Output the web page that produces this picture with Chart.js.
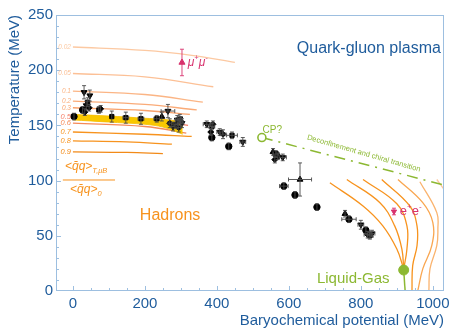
<!DOCTYPE html>
<html>
<head>
<meta charset="utf-8">
<script src="https://cdn.jsdelivr.net/npm/chart.js@4.4.0/dist/chart.umd.min.js"></script>
<style>
html,body{margin:0;padding:0;background:#fff}
</style>
</head>
<body>
<canvas id="c" width="454" height="330"></canvas>
<script>
// axis ranges and ticks
const xMin = -47, xMax = 1031
const yMin = 0, yMax = 250
const xTicks = [0, 200, 400, 600, 800, 1000]
const yTicks = [0, 50, 100, 150, 200, 250]

// chiral condensate contours <qq>_T / <qq>_0 (left side)
const condLevels = ['0.02', '0.05', '0.1', '0.2', '0.3', '0.5', '0.6', '0.7', '0.8', '0.9']
const condMu = [[0, 200, 330, 450], [0, 200, 390], [0, 200, 361], [0, 200, 344], [0, 200, 325],
    [0, 200, 320], [0, 200, 315], [0, 200, 330], [0, 150, 275], [0, 150, 250]]
const condT = [[221, 218, 213.5, 207], [197, 194, 185], [181, 178, 171], [172, 169, 164], [166, 163.5, 160],
    [158, 155, 150], [152, 149, 143], [144, 142, 140], [136, 135, 133], [126, 125.5, 124.5]]

// yellow band
const bandMu = [0, 100, 200, 250, 305]
const bandHi = [160, 158.5, 156.5, 155.5, 153.5]
const bandLo = [155, 153, 151, 148.5, 142]

// liquid-gas contours (right side)
const lgMu = [[714, 806, 861, 900, 919], [761, 853, 894, 914, 919], [806, 900, 928, 928, 919],
    [858, 936, 956, 956, 944, 942], [903, 972, 1000, 997, 972, 958], [964, 1011, 1014, 1011, 992, 989], [1011, 1031]]
const lgT = [[98, 77, 59, 38, 20], [101, 80, 59, 38, 20], [101, 79, 59, 38, 20],
    [101, 77, 59, 41, 23, 0], [101, 80, 62, 41, 20, 0], [99, 71, 56, 41, 20, 0], [101, 92]]

// transition line and critical points
const transMu = [525, 1031]
const transT = [139, 96]
const cpMu = [525], cpT = [139]
const lgCpMu = [919], lgCpT = [19]
const lgStemMu = [919, 923], lgStemT = [19, 0]

// freeze-out points
const circMu = [3, 27, 386, 433, 564, 586, 617, 678, 767, 814]
const circT = [158, 164, 139, 131, 124, 95, 87, 76, 65, 55]
const circEMu = [0, 0, 0, 0, 8, 12, 0, 0, 20, 0]
const circET = [3, 3, 3, 3, 3, 3, 3, 3, 3, 3]

const sqMu = [41, 72, 108, 147, 189, 233, 386, 442, 569, 825]
const sqT = [171, 164, 158, 157, 156, 156, 149, 141, 122, 50]
const sqEMu = [0, 0, 0, 8, 8, 8, 8, 15, 0, 8]
const sqET = [4, 3, 5, 5, 5, 3, 3, 3, 3, 3]

const dnMu = [31, 47, 37, 264, 278, 297, 303, 290, 286, 372, 408, 472, 583, 800, 831]
const dnT = [180, 177, 168, 163, 149, 156, 152, 155, 151, 151, 144, 135, 121, 60, 52]
const dnEMu = [0, 0, 0, 19, 5, 5, 5, 5, 5, 10, 8, 8, 10, 8, 8]
const dnET = [6, 5, 4, 6, 4, 4, 4, 4, 4, 3, 3, 4, 3, 4, 3]

const upMu = [631, 756, 247, 556]
const upT = [101, 70, 158, 126]
const upEMu = [32, 0, 0, 0]
const upET = [15, 3, 4, 3]

const starMu = [33, 45, 77, 269, 294, 299, 383, 389, 417, 561, 819]
const starT = [162, 166, 165, 152, 148, 154, 144, 151, 142, 119, 51]
const starEMu = [0, 0, 0, 5, 5, 5, 0, 0, 8, 0, 10]
const starET = [3, 3, 3, 4, 4, 4, 3, 3, 4, 3, 3]

// dilepton points
const mmMu = [303], mmT = [207], mmET = [12]
const eeMu = [892], eeT = [72], eeET = [3]

const blue = '#1f5c9c'
const orange = '#f7931e'
const green = '#8cb832'
const pink = '#d8336e'
const font = '"Liberation Sans", Arial, sans-serif'
const condColors = ['#fcc9a2', '#fcc096', '#fbb585', '#faab78', '#f9a26c', '#f5806a', '#f58a58', '#f7931e', '#f7931e', '#f28a18']
const lgColors = [orange, orange, orange, orange, '#f9a650', '#fab36e', '#fcc9a0']

function pts(mu, T){
    return mu.map((m, i) => ({x: m, y: T[i]}))
}

function errPts(mu, T, eMu, eT){
    return mu.map((m, i) => ({x: m, y: T[i], ex: eMu ? eMu[i] : 0, ey: eT ? eT[i] : 0}))
}

const datasets = []

condLevels.forEach((lvl, i) => {
    datasets.push({type: 'line', data: pts(condMu[i], condT[i]), borderColor: condColors[i],
        borderWidth: 1.3, pointRadius: 0, tension: 0.4, fill: false, order: 20})
})

datasets.push({type: 'line', data: pts(bandMu, bandHi), borderColor: '#f6bd00', borderWidth: 0.8,
    pointRadius: 0, tension: 0.3, fill: false, order: 15})
datasets.push({type: 'line', data: pts(bandMu, bandLo), borderColor: '#f6bd00', borderWidth: 0.8,
    backgroundColor: '#f9c800', pointRadius: 0, tension: 0.3, fill: '-1', order: 15})

lgMu.forEach((mu, i) => {
    datasets.push({type: 'line', data: pts(mu, lgT[i]), borderColor: lgColors[i],
        borderWidth: 1.3, pointRadius: 0, tension: 0.4, fill: false, order: 20})
})

datasets.push({type: 'line', data: pts(transMu, transT), borderColor: green, borderWidth: 1.5,
    borderDash: [11, 6, 2, 6], pointRadius: 0, fill: false, order: 10})
datasets.push({type: 'line', data: pts(lgStemMu, lgStemT), borderColor: green, borderWidth: 1.5,
    pointRadius: 0, fill: false, order: 10})
datasets.push({type: 'scatter', data: pts(cpMu, cpT), pointStyle: 'circle', pointRadius: 4,
    borderColor: green, borderWidth: 1.6, backgroundColor: '#fff', order: 5})
datasets.push({type: 'scatter', data: pts(lgCpMu, lgCpT), pointStyle: 'circle', pointRadius: 5,
    borderColor: green, backgroundColor: green, order: 5})

const markerSets = [
    [circMu, circT, circEMu, circET, 'circle', 3.2, 0],
    [sqMu, sqT, sqEMu, sqET, 'rect', 3, 0],
    [dnMu, dnT, dnEMu, dnET, 'triangle', 3.4, 180],
    [upMu, upT, upEMu, upET, 'triangle', 3.4, 0],
    [starMu, starT, starEMu, starET, 'rectRot', 3, 0]
]
markerSets.forEach(m => {
    datasets.push({type: 'scatter', data: errPts(m[0], m[1], m[2], m[3]), pointStyle: m[4],
        pointRadius: m[5], rotation: m[6], backgroundColor: '#000', borderColor: '#000',
        borderWidth: 1, errColor: '#4a4a4a', order: 1})
})

datasets.push({type: 'scatter', data: errPts(mmMu, mmT, null, mmET), pointStyle: 'triangle',
    pointRadius: 3.5, backgroundColor: pink, borderColor: pink, errColor: pink, order: 1})
datasets.push({type: 'scatter', data: errPts(eeMu, eeT, null, eeET), pointStyle: 'triangle',
    rotation: 180, pointRadius: 3, backgroundColor: pink, borderColor: pink, errColor: pink, order: 1})

const notes = [
    {text: 'Quark-gluon plasma', mu: 622, T: 220, color: blue, size: 16},
    {text: 'Hadrons', mu: 186, T: 68, color: orange, size: 16},
    {text: 'Liquid-Gas', mu: 678, T: 11, color: green, size: 15},
    {text: 'CP?', mu: 527, T: 146, color: green, size: 10},
    {text: 'Deconfinement and chiral transition', mu: 808, T: 124.5, color: green, size: 7.5, align: 'center', angle: 16}
]

function drawSegments(ctx, x, y, segs, size, color, italic){
    ctx.fillStyle = color
    ctx.textAlign = 'left'
    ctx.textBaseline = 'middle'
    segs.forEach(s => {
        const sz = s[1] ? size * 0.62 : size
        const dy = s[1] === 1 ? -size * 0.35 : (s[1] === -1 ? size * 0.35 : 0)
        ctx.font = (italic ? 'italic ' : '') + sz + 'px ' + font
        ctx.fillText(s[0], x, y + dy)
        x += ctx.measureText(s[0]).width
    })
}

const decor = {
    id: 'decor',
    afterDatasetsDraw(chart){
        const {ctx, chartArea: a, scales: {x, y}} = chart
        ctx.save()
        // error bars
        chart.data.datasets.forEach(ds => {
            if(!ds.errColor) return
            ctx.strokeStyle = ds.errColor
            ctx.lineWidth = 0.9
            ds.data.forEach(p => {
                const px = x.getPixelForValue(p.x), py = y.getPixelForValue(p.y)
                ctx.beginPath()
                if(p.ey){
                    const t = y.getPixelForValue(p.y + p.ey), b = y.getPixelForValue(p.y - p.ey)
                    ctx.moveTo(px, t); ctx.lineTo(px, b)
                    ctx.moveTo(px - 2, t); ctx.lineTo(px + 2, t)
                    ctx.moveTo(px - 2, b); ctx.lineTo(px + 2, b)
                }
                if(p.ex){
                    const l = x.getPixelForValue(p.x - p.ex), r = x.getPixelForValue(p.x + p.ex)
                    ctx.moveTo(l, py); ctx.lineTo(r, py)
                    ctx.moveTo(l, py - 2); ctx.lineTo(l, py + 2)
                    ctx.moveTo(r, py - 2); ctx.lineTo(r, py + 2)
                }
                ctx.stroke()
            })
        })

        // frame and inward ticks
        ctx.strokeStyle = '#9dbfe0'
        ctx.lineWidth = 1
        ctx.strokeRect(a.left + 0.5, a.top + 0.5, a.right - a.left - 1, a.bottom - a.top - 1)
        ctx.beginPath()
        for(let v = 0; v <= 1000; v += 50){
            const px = Math.round(x.getPixelForValue(v)) + 0.5
            const len = v % 200 === 0 ? 5 : 3
            ctx.moveTo(px, a.bottom); ctx.lineTo(px, a.bottom - len)
        }
        for(let v = 10; v < 250; v += 10){
            const py = Math.round(y.getPixelForValue(v)) + 0.5
            const len = v % 50 === 0 ? 5 : 3
            ctx.moveTo(a.left, py); ctx.lineTo(a.left + len, py)
        }
        ctx.stroke()

        // condensate labels
        const x0 = x.getPixelForValue(0) - 2
        condLevels.forEach((lvl, i) => {
            ctx.font = 'italic ' + (i < 5 ? 6.5 : 7.5) + 'px ' + font
            ctx.fillStyle = condColors[i]
            ctx.textAlign = 'right'
            ctx.textBaseline = 'middle'
            ctx.fillText(lvl, x0, y.getPixelForValue(condT[i][0]))
        })

        // ratio label
        drawSegments(ctx, x.getPixelForValue(-22), y.getPixelForValue(113),
            [['<q\u0304q>', 0], ['T,\u03bcB', -1]], 12, orange, true)
        ctx.strokeStyle = orange
        ctx.beginPath()
        ctx.moveTo(x.getPixelForValue(-28), y.getPixelForValue(101) + 0.5)
        ctx.lineTo(x.getPixelForValue(117), y.getPixelForValue(101) + 0.5)
        ctx.stroke()
        drawSegments(ctx, x.getPixelForValue(-8), y.getPixelForValue(92),
            [['<q\u0304q>', 0], ['0', -1]], 12, orange, true)

        // dilepton labels
        drawSegments(ctx, x.getPixelForValue(319), y.getPixelForValue(207),
            [['\u03bc', 0], ['+', 1], ['\u03bc', 0], ['-', 1]], 12, pink, true)
        drawSegments(ctx, x.getPixelForValue(908), y.getPixelForValue(72),
            [['e', 0], ['+', 1], ['e', 0], ['-', 1]], 13, pink, false)

        // region notes
        notes.forEach(n => {
            ctx.save()
            ctx.translate(x.getPixelForValue(n.mu), y.getPixelForValue(n.T))
            if(n.angle) ctx.rotate(n.angle * Math.PI / 180)
            ctx.font = n.size + 'px ' + font
            ctx.fillStyle = n.color
            ctx.textAlign = n.align || 'left'
            ctx.textBaseline = 'middle'
            ctx.fillText(n.text, 0, 0)
            ctx.restore()
        })
        ctx.restore()
    }
}

new Chart(document.getElementById('c'), {
    type: 'scatter',
    data: {datasets},
    options: {
        responsive: false,
        devicePixelRatio: 1,
        animation: false,
        layout: {padding: {top: 15, right: 10, left: 0, bottom: 0}},
        plugins: {legend: {display: false}, tooltip: {enabled: false}},
        scales: {
            x: {
                type: 'linear', min: xMin, max: xMax,
                grid: {display: false, drawTicks: false},
                border: {display: false},
                afterBuildTicks: s => { s.ticks = xTicks.map(v => ({value: v})) },
                afterFit: s => { s.height = 39 },
                ticks: {color: blue, font: {size: 15, family: font}, padding: 4, maxRotation: 0, autoSkip: false,
                    callback: v => String(v)},
                title: {display: true, text: 'Baryochemical potential (MeV)', align: 'end', color: blue,
                    font: {size: 15, family: font}, padding: 0}
            },
            y: {
                type: 'linear', min: yMin, max: yMax,
                grid: {display: false, drawTicks: false},
                border: {display: false},
                afterBuildTicks: s => { s.ticks = yTicks.map(v => ({value: v})) },
                afterFit: s => { s.width = 56 },
                ticks: {color: blue, font: {size: 15, family: font}, padding: 3, autoSkip: false,
                    callback: v => String(v)},
                title: {display: true, text: 'Temperature (MeV)', align: 'end', color: blue,
                    font: {size: 15, family: font}, padding: {top: 6, bottom: 0}}
            }
        }
    },
    plugins: [decor]
})
</script>
</body>
</html>
